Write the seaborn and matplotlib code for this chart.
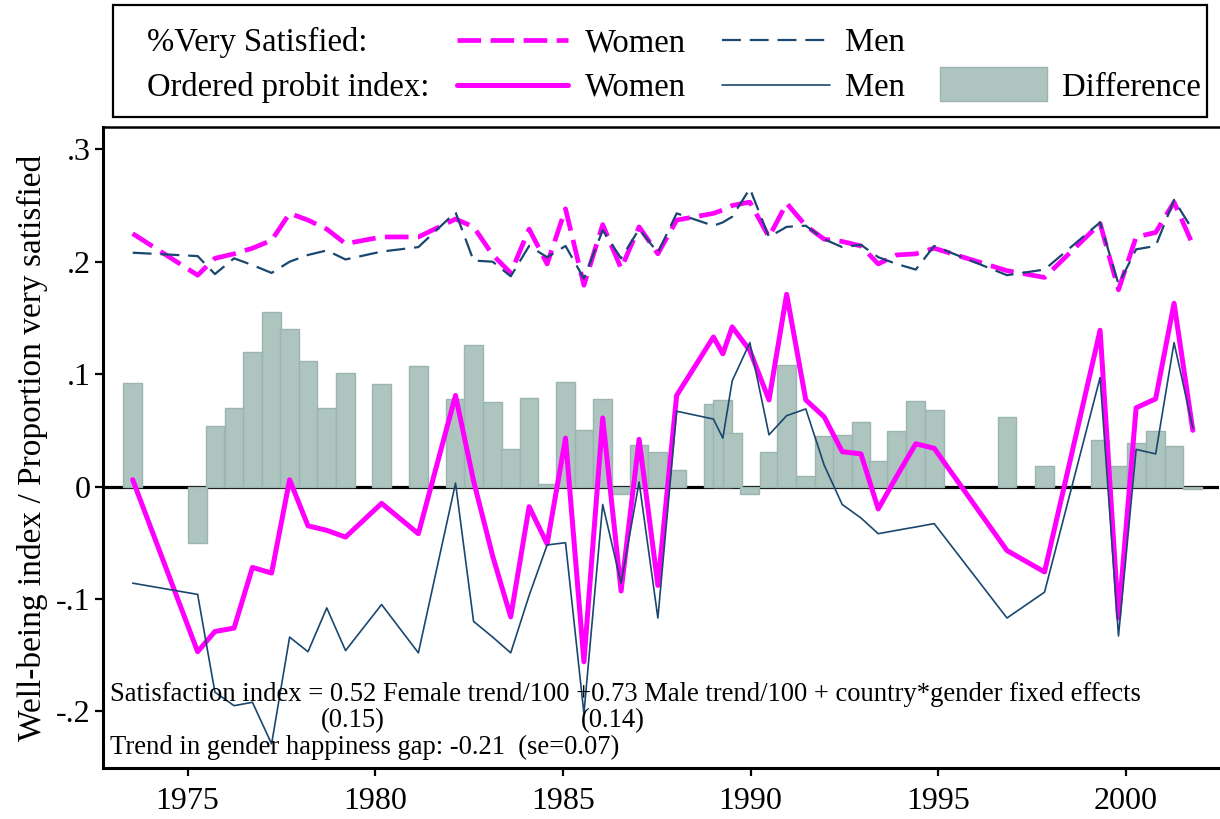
import matplotlib
matplotlib.use("Agg")
import matplotlib.pyplot as plt
import seaborn as sns
import pandas as pd
from matplotlib.patches import Rectangle
from matplotlib.lines import Line2D

# ---------------- data ----------------
years = [1973.54, 1975.27, 1975.73, 1976.24, 1976.73, 1977.24, 1977.72, 1978.21,
         1978.71, 1979.21, 1980.17, 1981.15, 1982.14, 1982.62, 1983.13, 1983.61,
         1984.10, 1984.58, 1985.07, 1985.56, 1986.06, 1986.55, 1987.03, 1987.53,
         1988.03, 1989.01, 1989.26, 1989.51, 1989.98, 1990.49, 1990.96, 1991.47,
         1991.96, 1992.44, 1992.94, 1993.40, 1993.89, 1994.40, 1994.89, 1996.83,
         1997.83, 1999.31, 1999.80, 2000.27, 2000.79, 2001.28, 2001.78]

women_very_satisfied = [0.225, 0.188, 0.203, 0.207, 0.212, 0.219, 0.243, 0.237,
                        0.229, 0.216, 0.222, 0.222, 0.238, 0.231, 0.206, 0.190,
                        0.229, 0.198, 0.247, 0.179, 0.233, 0.194, 0.231, 0.207,
                        0.237, 0.243, 0.246, 0.250, 0.253, 0.222, 0.252, 0.232,
                        0.220, 0.218, 0.214, 0.198, 0.206, 0.207, 0.212, 0.192,
                        0.186, 0.234, 0.175, 0.222, 0.226, 0.253, 0.215]

men_very_satisfied = [0.208, 0.205, 0.189, 0.203, 0.197, 0.190, 0.200, 0.206,
                      0.210, 0.202, 0.209, 0.213, 0.244, 0.201, 0.200, 0.187,
                      0.214, 0.204, 0.214, 0.185, 0.228, 0.203, 0.229, 0.208,
                      0.243, 0.232, 0.235, 0.240, 0.265, 0.222, 0.231, 0.232,
                      0.220, 0.213, 0.215, 0.204, 0.198, 0.193, 0.214, 0.188,
                      0.193, 0.235, 0.180, 0.211, 0.214, 0.255, 0.228]

women_index = [0.006, -0.147, -0.129, -0.126, -0.072, -0.077, 0.006, -0.035,
               -0.039, -0.045, -0.015, -0.042, 0.081, 0.005, -0.062, -0.116,
               -0.018, -0.051, 0.043, -0.156, 0.061, -0.093, 0.042, -0.088,
               0.081, 0.133, 0.118, 0.142, 0.121, 0.077, 0.171, 0.077,
               0.062, 0.031, 0.029, -0.020, 0.009, 0.038, 0.034, -0.057,
               -0.076, 0.139, -0.117, 0.070, 0.078, 0.163, 0.050]

men_index = [-0.086, -0.096, -0.183, -0.195, -0.192, -0.229, -0.134, -0.147,
             -0.108, -0.146, -0.105, -0.148, 0.003, -0.120, -0.134, -0.148,
             -0.097, -0.052, -0.050, -0.202, -0.016, -0.086, 0.004, -0.117,
             0.067, 0.060, 0.043, 0.094, 0.128, 0.046, 0.063, 0.069,
             0.019, -0.016, -0.028, -0.042, -0.039, -0.036, -0.033, -0.117,
             -0.094, 0.097, -0.133, 0.033, 0.029, 0.128, 0.052]

difference = [0.092, -0.050, 0.054, 0.070, 0.120, 0.155, 0.140, 0.112,
              0.070, 0.101, 0.091, 0.107, 0.078, 0.126, 0.075, 0.033,
              0.079, 0.002, 0.093, 0.050, 0.078, -0.007, 0.037, 0.031,
              0.015, 0.073, 0.077, 0.048, -0.007, 0.031, 0.108, 0.009,
              0.045, 0.046, 0.057, 0.023, 0.049, 0.076, 0.068, 0.062,
              0.018, 0.041, 0.018, 0.039, 0.049, 0.036, -0.002]

x_ticks = [1975, 1980, 1985, 1990, 1995, 2000]
y_ticks = [-0.2, -0.1, 0.0, 0.1, 0.2, 0.3]
y_tick_labels = ["-.2", "-.1", "0", ".1", ".2", ".3"]

df = pd.DataFrame({
    "year": years,
    "women_vs": women_very_satisfied,
    "men_vs": men_very_satisfied,
    "women_idx": women_index,
    "men_idx": men_index,
    "diff": difference,
})

# ---------------- style ----------------
sns.set_theme(style="white")
plt.rcParams['font.family'] = ['Liberation Serif', 'DejaVu Serif']
plt.rcParams['text.color'] = 'black'
plt.rcParams['axes.labelcolor'] = 'black'
plt.rcParams['xtick.color'] = 'black'
plt.rcParams['ytick.color'] = 'black'

MAG = "#ff00ff"
NAVY = "#1a476f"
BAR = "#adc4bf"
BAR_EDGE = "#9bb5b0"

W, H = 1220, 819
fig = plt.figure(figsize=(W / 100, H / 100), dpi=100)
fig.patch.set_facecolor("white")

ax_l, ax_r, ax_t, ax_b = 103, 1219, 127, 768
ax = fig.add_axes([ax_l / W, 1 - ax_b / H, (ax_r - ax_l) / W, (ax_b - ax_t) / H])
ax.set_facecolor("white")

# zero line, bars
ax.axhline(0, color="black", lw=2.3, zorder=1)
ax.bar(df["year"], df["diff"], width=0.5, color=BAR, edgecolor=BAR_EDGE,
       linewidth=1.0, zorder=2)

# lines
sns.lineplot(data=df, x="year", y="women_vs", ax=ax, color=MAG, lw=3.4,
             linestyle=(0, (5.0, 2.0)), estimator=None, sort=False, zorder=3)
sns.lineplot(data=df, x="year", y="men_vs", ax=ax, color=NAVY, lw=1.6,
             linestyle=(0, (8.5, 4.0)), estimator=None, sort=False, zorder=3)
sns.lineplot(data=df, x="year", y="women_idx", ax=ax, color=MAG, lw=3.6,
             estimator=None, sort=False, zorder=4)
sns.lineplot(data=df, x="year", y="men_idx", ax=ax, color=NAVY, lw=1.2,
             estimator=None, sort=False, zorder=5)

# axes scale
x0 = 1975 + (ax_l - 187.5) / 37.54
x1 = 1975 + (ax_r - 187.5) / 37.54
y0 = (486.5 - ax_b) / 1124
y1 = (486.5 - ax_t) / 1124
ax.set_xlim(x0, x1)
ax.set_ylim(y0, y1)
ax.set_xticks(x_ticks)
ax.set_xticklabels([str(t) for t in x_ticks])
ax.set_yticks(y_ticks)
ax.set_yticklabels(y_tick_labels)
ax.set_xlabel("")
ax.set_ylabel("Well-being index / Proportion very satisfied", fontsize=24,
              labelpad=5.5, color="black")
ax.tick_params(axis="both", which="both", bottom=True, left=True, direction="out",
               length=6, width=1.6, colors="black", labelcolor="black", labelsize=23)
ax.tick_params(axis="x", pad=8)
ax.tick_params(axis="y", pad=3)
for side in ["left", "bottom"]:
    ax.spines[side].set_color("black")
    ax.spines[side].set_linewidth(2.2)
ax.spines["top"].set_color("black")
ax.spines["top"].set_linewidth(1.8)
ax.spines["right"].set_visible(False)

# ---------------- overlay (legend + notes) in pixel coordinates ----------------
ov = fig.add_axes([0, 0, 1, 1], facecolor="none")
ov.set_xlim(0, W)
ov.set_ylim(H, 0)
ov.axis("off")

ov.add_patch(Rectangle((113, 5), 1207 - 113, 117 - 5, fill=False,
                       edgecolor="black", lw=1.6))
FS_LEG = 23.5
r1, r2 = 51, 96
ov.text(147, r1, "%Very Satisfied:", fontsize=FS_LEG, va="baseline", ha="left", color="black")
ov.text(147, r2, "Ordered probit index:", fontsize=FS_LEG, va="baseline", ha="left", color="black")
ov.add_line(Line2D([457, 568], [40, 40], color=MAG, lw=3.4,
                   linestyle=(0, (5.0, 2.0))))
ov.add_line(Line2D([722, 830], [40, 40], color=NAVY, lw=1.6,
                   linestyle=(0, (8.5, 4.0))))
ov.add_line(Line2D([457, 568], [85, 85], color=MAG, lw=3.6))
ov.add_line(Line2D([722, 830], [85, 85], color=NAVY, lw=1.2))
for r in (r1, r2):
    ov.text(585, r, "Women", fontsize=FS_LEG, va="baseline", ha="left", color="black")
    ov.text(845, r, "Men", fontsize=FS_LEG, va="baseline", ha="left", color="black")
ov.add_patch(Rectangle((940, 67), 107, 34, facecolor=BAR, edgecolor=BAR_EDGE, lw=1.0))
ov.text(1062, r2, "Difference", fontsize=FS_LEG, va="baseline", ha="left", color="black")

FS_NOTE = 19.2
ov.text(110, 701, "Satisfaction index = 0.52 Female trend/100 +0.73 Male trend/100 "
        "+ country*gender fixed effects", fontsize=FS_NOTE, va="baseline", ha="left",
        color="black")
ov.text(353, 727, "(0.15)", fontsize=FS_NOTE, va="baseline", ha="center", color="black")
ov.text(613, 727, "(0.14)", fontsize=FS_NOTE, va="baseline", ha="center", color="black")
ov.text(110, 754, "Trend in gender happiness gap: -0.21  (se=0.07)",
        fontsize=FS_NOTE, va="baseline", ha="left", color="black")

fig.savefig("out.png", dpi=100, facecolor="white")
